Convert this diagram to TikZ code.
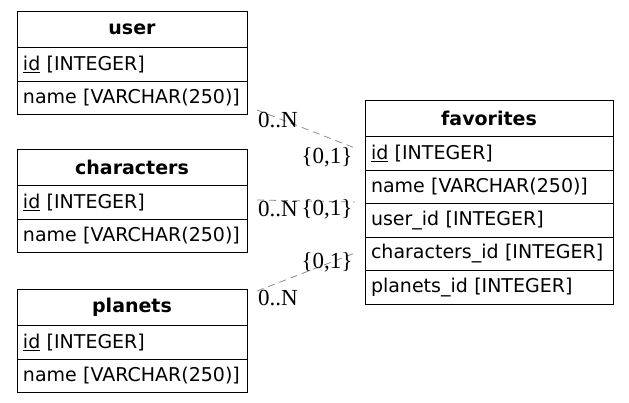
\documentclass[tikz,border=0pt]{standalone}
\usepackage{fontspec}
\setmainfont{DejaVu Sans}
\newfontfamily\cardfont{Liberation Serif}
\usetikzlibrary{positioning}
\definecolor{relgray}{HTML}{8C8C8C}
\tikzset{
  % tabeller
  th/.style={draw=black,line width=0.8pt,inner sep=0pt,outer sep=0pt,minimum height=36.5pt,
             text width=#1,align=center,font=\fontsize{19}{21}\selectfont\bfseries},
  td/.style={draw=black,line width=0.8pt,inner xsep=6pt,inner ysep=0pt,outer sep=0pt,
             minimum height=33.5pt,text width=#1,align=left,
             font=\fontsize{19}{21}\selectfont},
  % relationer
  rel/.style={draw=relgray,line width=0.8pt,dash pattern=on 7pt off 5pt},
  card/.style={font=\cardfont\fontsize{23}{25}\selectfont,inner sep=0pt,text=black},
}
\begin{document}
\begin{tikzpicture}[x=1pt,y=-1pt]
  \useasboundingbox (0,0) rectangle (629,403);
  % user
  \node[th=230pt,anchor=north west] (user) at (17,11) {user};
  \node[td=218pt,below=0pt of user] (user-id) {\underline{id} [INTEGER]};
  \node[td=218pt,below=0pt of user-id] (user-name) {name [VARCHAR(250)]};
  % characters
  \node[th=230pt,anchor=north west] (chars) at (17,149) {characters};
  \node[td=218pt,below=0pt of chars] (chars-id) {\underline{id} [INTEGER]};
  \node[td=218pt,below=0pt of chars-id] (chars-name) {name [VARCHAR(250)]};
  % planets
  \node[th=230pt,anchor=north west] (planets) at (17,289) {planets};
  \node[td=218pt,below=0pt of planets] (planets-id) {\underline{id} [INTEGER]};
  \node[td=218pt,below=0pt of planets-id] (planets-name) {name [VARCHAR(250)]};
  % favorites
  \node[th=248pt,anchor=north west] (fav) at (365,100) {favorites};
  \node[td=236pt,below=0pt of fav] (fav-id) {\underline{id} [INTEGER]};
  \node[td=236pt,below=0pt of fav-id] (fav-name) {name [VARCHAR(250)]};
  \node[td=236pt,below=0pt of fav-name] (fav-user) {user\_id [INTEGER]};
  \node[td=236pt,below=0pt of fav-user] (fav-chars) {characters\_id [INTEGER]};
  \node[td=236pt,below=0pt of fav-chars] (fav-planets) {planets\_id [INTEGER]};
  % ändpunkter
  \coordinate (u0) at (257,110);
  \coordinate (f1) at (355,148);
  \coordinate (c0) at (257,200);
  \coordinate (f2) at (355,202);
  \coordinate (p0) at (257,291);
  \coordinate (f3) at (355,253);
  \draw[rel] (u0) -- (f1);
  \draw[rel] (c0) -- (f2);
  \draw[rel] (p0) -- (f3);
  \node[card] (u0-card) at (278,120) {0..N};
  \node[card] (f1-card) at (327,157) {\{0,1\}};
  \node[card] (c0-card) at (278,209) {0..N};
  \node[card] (f2-card) at (327,209) {\{0,1\}};
  \node[card] (p0-card) at (278,298) {0..N};
  \node[card] (f3-card) at (327,262) {\{0,1\}};
\end{tikzpicture}
\end{document}
